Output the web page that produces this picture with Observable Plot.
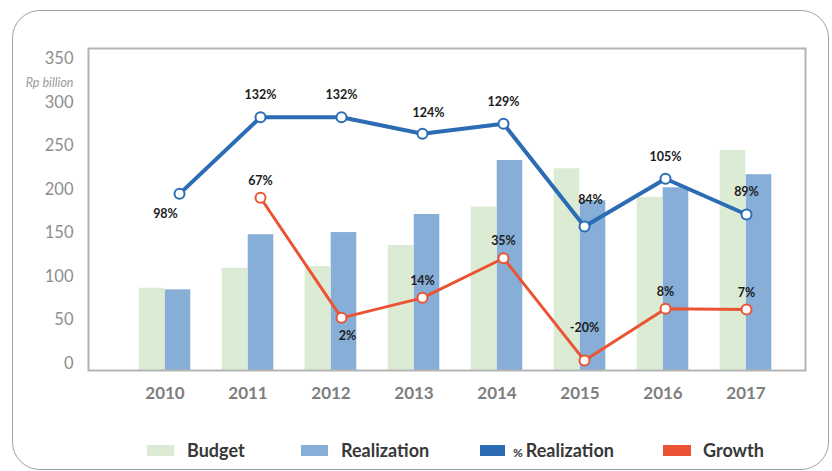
<!DOCTYPE html>
<html><head><meta charset="utf-8">
<script src="https://cdn.jsdelivr.net/npm/d3@7"></script>
<script src="https://cdn.jsdelivr.net/npm/@observablehq/plot@0.6"></script>
<style>
body{margin:0;background:#fff;font-family:Lato,"Open Sans",sans-serif;}
#wrap{position:relative;width:832px;height:471px;overflow:hidden;background:#fff;}
#card{position:absolute;left:12px;top:10px;width:817px;height:460px;border:1px solid #a0a0a0;border-radius:28px;box-sizing:border-box;}
#bars,#lines{position:absolute;left:0;top:0;}
.sw{position:absolute;top:445px;height:11px;}
.lt{position:absolute;top:438px;font:bold 18px Lato,sans-serif;color:#383838;line-height:24px;}
.lt small{font-size:12px;}
</style></head>
<body>
<div id="wrap">
  <div id="card"></div>
  <div id="bars"></div>
  <div id="lines"></div>
  <div id="legend"></div>
</div>
<script>
// ---- data ----
const years = ["2010","2011","2012","2013","2014","2015","2016","2017"];
const budget = [86.5, 109.5, 111.5, 135.6, 179.7, 223.8, 191, 244.8];
const realization = [84.7, 148, 150.5, 171.3, 233.3, 187, 202, 217];
// % Realization line: plotted positions (on the Rp billion axis) and labels
const pctRealizationPos = [195, 283, 283, 264, 275.5, 157.5, 212.3, 171.3];
const pctRealizationLabels = ["98%","132%","132%","124%","129%","84%","105%","89%"];
// Growth line (from 2011): plotted positions and labels
const growthYears = ["2011","2012","2013","2014","2015","2016","2017"];
const growthPos = [190.5, 52.5, 75.5, 121, 3.4, 63, 62];
const growthLabels = ["67%","2%","14%","35%","-20%","8%","7%"];
const yTicks = [0, 50, 100, 150, 200, 250, 300, 350];
const legendItems = ["Budget","Realization","% Realization","Growth"];

// ---- build ----
const colors = {budget:"#dcebd3", realization:"#87aed6", pct:"#2b6cb4", growth:"#ea5434"};
const table = years.map((year,i)=>({year, budget:budget[i], realization:realization[i]}));
const pctData = years.map((year,i)=>({year, v:pctRealizationPos[i], label:pctRealizationLabels[i]}));
const growthData = growthYears.map((year,i)=>({year, v:growthPos[i], label:growthLabels[i]}));
const yDomain = [-8, 362];
const common = {width:832, height:410, marginTop:48, marginBottom:40, marginLeft:88, marginRight:27,
  style:{background:"transparent", fontFamily:"Lato, sans-serif", overflow:"visible"}};

const barsPlot = Plot.plot({
  ...common,
  x:{type:"band", domain:years, padding:0, insetLeft:33, insetRight:16, label:null},
  y:{domain:yDomain, label:null},
  marks:[
    Plot.barY(table,{x:"year", y1:yDomain[0], y2:"budget", fill:colors.budget, insetLeft:15.7, insetRight:41.7}),
    Plot.barY(table,{x:"year", y1:yDomain[0], y2:"realization", fill:colors.realization, insetLeft:41.7, insetRight:15.7}),
    Plot.frame({stroke:"#b4b4b4", strokeWidth:2}),
    Plot.axisY({ticks:yTicks, tickSize:0, tickPadding:15, fontSize:16.5, fill:"#8e8e8e", label:null}),
    Plot.axisX({tickSize:0, tickPadding:16, fontSize:17, fontWeight:"bold", fill:"#7e7e7e", label:null}),
    Plot.text(["Rp billion"],{text:d=>d, frameAnchor:"top-left", dx:-15, dy:30, textAnchor:"end", fontStyle:"italic", fontSize:12.5, fill:"#9a9a9a"})
  ]
});
document.getElementById("bars").appendChild(barsPlot);

// label placements (dx, dy) per point
function labelMarks(data, def, exceptions){
  const groups = new Map();
  for (const d of data){
    const key = (exceptions[d.year] || def).join(",");
    if(!groups.has(key)) groups.set(key, []);
    groups.get(key).push(d);
  }
  return [...groups].map(([key, ds])=>{
    const [dx, dy] = key.split(",").map(Number);
    return Plot.text(ds,{x:"year", y:"v", text:"label", dx, dy, fontSize:12.5, fontWeight:"bold", fill:"#1c1c1c"});
  });
}

const linesPlot = Plot.plot({
  ...common,
  x:{type:"point", domain:years, padding:0, insetLeft:89, insetRight:57},
  y:{domain:yDomain},
  axis:null,
  marks:[
    Plot.line(pctData,{x:"year", y:"v", stroke:colors.pct, strokeWidth:4}),
    Plot.line(growthData,{x:"year", y:"v", stroke:colors.growth, strokeWidth:3}),
    Plot.dot(pctData,{x:"year", y:"v", r:5, fill:"white", stroke:colors.pct, strokeWidth:2}),
    Plot.dot(growthData,{x:"year", y:"v", r:5, fill:"white", stroke:colors.growth, strokeWidth:2}),
    ...labelMarks(pctData, [0,-22], {"2010":[-14,20], "2013":[6,-21], "2015":[6,-26]}),
    ...labelMarks(growthData, [0,-17], {"2012":[6,18], "2015":[0,-33]})
  ]
});
document.getElementById("lines").appendChild(linesPlot);

// legend
const legendColors = [colors.budget, colors.realization, colors.pct, colors.growth];
const swLeft = [147, 301, 480, 663], swW = [27, 27, 25, 28], txtLeft = [187, 341, 513, 703];
const leg = document.getElementById("legend");
legendItems.forEach((name,i)=>{
  const s = document.createElement("div");
  s.className = "sw"; s.style.left = swLeft[i]+"px"; s.style.width = swW[i]+"px"; s.style.background = legendColors[i];
  leg.appendChild(s);
  const t = document.createElement("div");
  t.className = "lt"; t.style.left = txtLeft[i]+"px";
  if (name.startsWith("% ")) { const sm = document.createElement("small"); sm.textContent = "% "; t.appendChild(sm); t.appendChild(document.createTextNode(name.slice(2))); }
  else t.textContent = name;
  leg.appendChild(t);
});
</script>
</body></html>
